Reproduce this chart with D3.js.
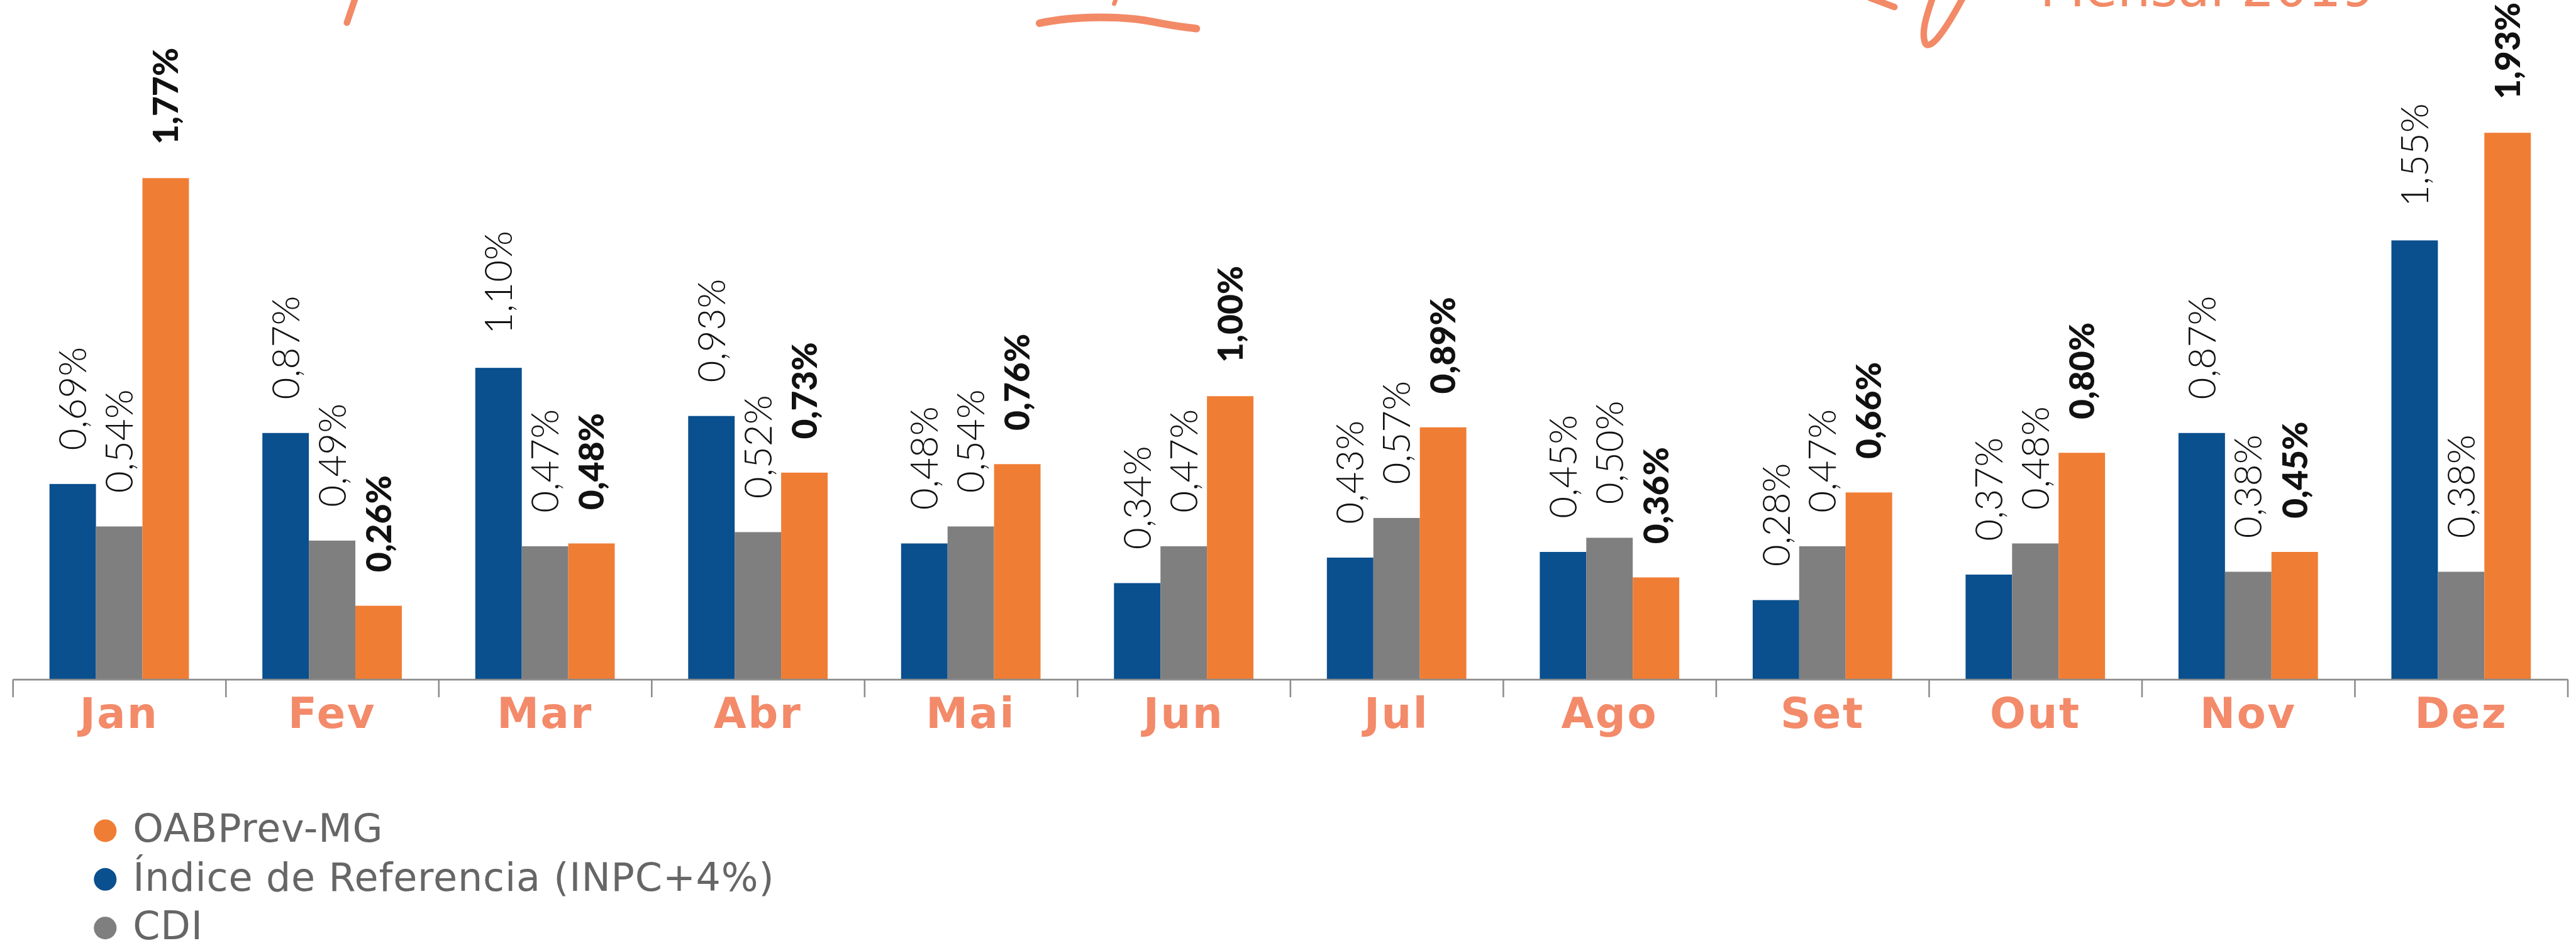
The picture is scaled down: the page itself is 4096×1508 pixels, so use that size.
<!DOCTYPE html>
<html>
<head>
<meta charset="utf-8">
<script src="https://cdn.jsdelivr.net/npm/d3@7"></script>
<style>
  body { margin: 0; background: #fff; }
  svg { display: block; }
</style>
</head>
<body>
<svg id="chart"></svg>
<script>
// data (monthly returns, %)
var months = ["Jan", "Fev", "Mar", "Abr", "Mai", "Jun", "Jul", "Ago", "Set", "Out", "Nov", "Dez"];
var inpc = [0.69, 0.87, 1.10, 0.93, 0.48, 0.34, 0.43, 0.45, 0.28, 0.37, 0.87, 1.55];
var cdi  = [0.54, 0.49, 0.47, 0.52, 0.54, 0.47, 0.57, 0.50, 0.47, 0.48, 0.38, 0.38];
var oab  = [1.77, 0.26, 0.48, 0.73, 0.76, 1.00, 0.89, 0.36, 0.66, 0.80, 0.45, 1.93];

var seriesKeys = ["inpc", "cdi", "oab"];
var legendKeys = ["oab", "inpc", "cdi"];
var legendNames = {oab: "OABPrev-MG", inpc: "Índice de Referencia (INPC+4%)", cdi: "CDI"};
var colors = {inpc: "#0a4f8e", cdi: "#7f7f7f", oab: "#f07d34"};

// drawn in reference units, scaled to the window by the viewBox
var W = 4763, H = 1754;
var svg = d3.select("#chart")
  .attr("width", 4096)
  .attr("height", 1508)
  .attr("viewBox", "0 0 " + W + " " + H);

var left = 23, right = 4748, base = 1257;

var x = d3.scaleBand()
  .domain(months)
  .range([left, right])
  .padding(0);

var xs = d3.scaleBand()
  .domain(seriesKeys)
  .range([0, x.bandwidth()])
  .paddingInner(0)
  .paddingOuter(0.79);

var y = d3.scaleLinear()
  .domain([0, 2])
  .range([base, base - 2 * 524]);

var values = {inpc: inpc, cdi: cdi, oab: oab};
var rows = [];
months.forEach(function(m, i) {
  seriesKeys.forEach(function(k) {
    rows.push({month: m, key: k, v: values[k][i]});
  });
});

var fmt = function(v) { return d3.format(".2f")(v).replace(".", ",") + "%"; };

// bars
svg.append("g").selectAll("rect")
  .data(rows)
  .enter()
  .append("rect")
  .attr("x", function(d) { return x(d.month) + xs(d.key); })
  .attr("y", function(d) { return y(d.v); })
  .attr("width", xs.bandwidth())
  .attr("height", function(d) { return base - y(d.v); })
  .style("fill", function(d) { return colors[d.key]; });

// rotated value labels
svg.append("g").selectAll("text")
  .data(rows)
  .enter()
  .append("text")
  .attr("transform", function(d) {
    var cx = x(d.month) + xs(d.key) + xs.bandwidth() / 2;
    return "translate(" + cx + "," + (y(d.v) - 62) + ")rotate(-90)";
  })
  .attr("dy", "0.36em")
  .attr("text-anchor", "start")
  .style("font-family", "Lato, 'DejaVu Sans', sans-serif")
  .style("font-size", function(d) { return d.key == "oab" ? "64px" : "70px"; })
  .style("font-weight", function(d) { return d.key == "oab" ? 900 : 300; })
  .style("fill", "#111")
  .text(function(d) { return fmt(d.v); });

// axis line with ticks between the months
var xb = d3.scaleLinear().domain([0, months.length]).range([left, right]);
var tickAxis = svg.append("g")
  .attr("transform", "translate(0," + base + ")")
  .call(d3.axisBottom(xb)
    .tickValues(d3.range(months.length + 1))
    .tickSize(33)
    .tickSizeOuter(0)
    .tickFormat(""));
tickAxis.selectAll("path, line")
  .style("stroke", "#8d8d8d")
  .style("stroke-width", 3);

// month labels
var monthAxis = svg.append("g")
  .attr("transform", "translate(0," + base + ")")
  .call(d3.axisBottom(x).tickSize(0).tickPadding(35));
monthAxis.select(".domain").remove();
monthAxis.selectAll("text")
  .style("font-family", "'DejaVu Sans', sans-serif")
  .style("font-weight", "bold")
  .style("font-size", "78px")
  .style("letter-spacing", "3px")
  .style("fill", "#f38a69");

// legend
var legend = svg.append("g").selectAll("g")
  .data(legendKeys)
  .enter()
  .append("g")
  .attr("transform", function(d, i) { return "translate(194," + (1537 + i * 90) + ")"; });

legend.append("circle")
  .attr("r", 21)
  .style("fill", function(d) { return colors[d]; });

legend.append("text")
  .attr("x", 51)
  .attr("y", 21)
  .style("font-family", "'DejaVu Sans', sans-serif")
  .style("font-size", "72px")
  .style("letter-spacing", "1px")
  .style("fill", "#666")
  .text(function(d) { return legendNames[d]; });

// title remnants cut off at the top edge
var hand = svg.append("g")
  .style("fill", "none")
  .style("stroke", "#f28a67")
  .style("stroke-linecap", "round")
  .style("stroke-width", 12);
hand.append("path").attr("d", "M657,-5 L641,42");
hand.append("path").attr("d", "M2064,-4 L2060,7").style("stroke-width", 8);
hand.append("path").attr("d", "M1922,43 C1990,28 2080,30 2130,40 S2190,50 2212,53").style("stroke-width", 14);
hand.append("path").attr("d", "M3458,-4 L3503,13");
hand.append("path").attr("d", "M3574,-5 C3562,30 3552,60 3560,80 C3568,92 3590,70 3630,-5");

svg.append("text")
  .attr("x", 3772)
  .attr("y", 12)
  .style("font-family", "'DejaVu Sans', sans-serif")
  .style("font-size", "97px")
  .style("fill", "#f28a67")
  .text("Mensal 2019");
</script>
</body>
</html>
